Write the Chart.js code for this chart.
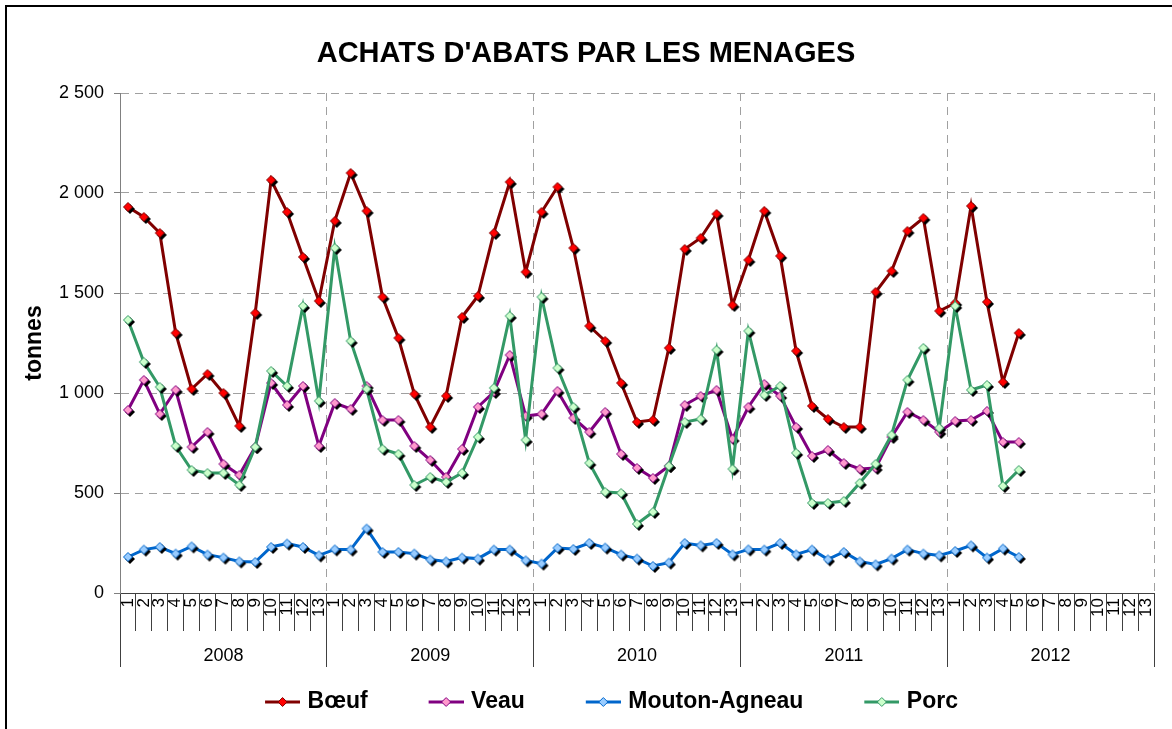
<!DOCTYPE html>
<html>
<head>
<meta charset="utf-8">
<script src="https://cdn.jsdelivr.net/npm/chart.js@4.4.0/dist/chart.umd.min.js"></script>
<style>
html,body{margin:0;padding:0;background:#fff;overflow:hidden;}
#wrap{position:relative;width:1172px;height:729px;overflow:hidden;}
#frame{position:absolute;left:5px;top:5px;width:1200px;height:800px;border-left:2px solid #000;border-top:2px solid #000;pointer-events:none;}
canvas{position:absolute;left:0;top:0;}
</style>
</head>
<body>
<div id="wrap"><canvas id="c" width="1172" height="729"></canvas><div id="frame"></div></div>
<script>
// ---- data ----
const years = ['2008', '2009', '2010', '2011', '2012'];
const periods = ['1','2','3','4','5','6','7','8','9','10','11','12','13'];

const beef = [
  1930, 1880, 1800, 1300, 1020, 1095, 1000, 835, 1400, 2065, 1905, 1680, 1460,
  1860, 2100, 1910, 1480, 1275, 995, 830, 985, 1380, 1485, 1800, 2055, 1605,
  1905, 2030, 1725, 1335, 1260, 1050, 855, 865, 1225, 1720, 1775, 1895, 1440,
  1665, 1910, 1685, 1210, 935, 870, 830, 830, 1505, 1610, 1810, 1875, 1410,
  1450, 1935, 1455, 1055, 1300
];
const veal = [
  915, 1065, 895, 1015, 730, 805, 645, 590, 730, 1050, 940, 1035, 735,
  950, 920, 1035, 865, 865, 735, 665, 580, 720, 930, 1005, 1190, 885,
  895, 1010, 875, 805, 905, 695, 625, 575, 635, 940, 985, 1015, 770,
  930, 1045, 985, 830, 685, 715, 650, 620, 625, 780, 905, 865, 805,
  860, 865, 910, 755, 755
];
const mutton = [
  180, 217, 230, 197, 233, 192, 177, 158, 155, 230, 247, 230, 188,
  218, 217, 322, 205, 205, 197, 167, 158, 177, 172, 217, 217, 163,
  147, 225, 220, 250, 227, 192, 172, 135, 152, 250, 238, 250, 193,
  218, 217, 250, 193, 217, 168, 205, 158, 143, 172, 217, 197, 188,
  210, 238, 177, 222, 180
];
const pork = [
  1365, 1155, 1030, 735, 615, 600, 600, 540, 730, 1110, 1035, 1435, 960,
  1725, 1260, 1020, 720, 695, 540, 580, 555, 600, 780, 1025, 1385, 765,
  1480, 1125, 930, 650, 505, 500, 345, 405, 635, 855, 870, 1215, 620,
  1310, 990, 1035, 700, 450, 450, 460, 550, 645, 790, 1065, 1225, 825,
  1435, 1015, 1040, 535, 615
];
const seriesNames = ['Bœuf', 'Veau', 'Mouton-Agneau', 'Porc'];
const yTicks = [0, 500, 1000, 1500, 2000, 2500];
const yTickLabels = ['0', '500', '1 000', '1 500', '2 000', '2 500'];

// ---- styles ----
const styles = [
  {line: '#800000', fill: '#FF0000', stroke: '#800000'},
  {line: '#800080', fill: '#FF99CC', stroke: '#800080'},
  {line: '#0066CC', fill: '#99CCFF', stroke: '#0066CC'},
  {line: '#339966', fill: '#CCFFCC', stroke: '#339966'}
];
const FONT = "'Liberation Sans', Arial, sans-serif";
Chart.defaults.font.family = FONT;
Chart.defaults.color = '#000';

function diamond(g, cx, cy, r) {
  g.beginPath();
  g.moveTo(cx, cy - r); g.lineTo(cx + r, cy); g.lineTo(cx, cy + r); g.lineTo(cx - r, cy);
  g.closePath();
}
function makePoint(st) {
  const c = document.createElement('canvas');
  c.width = 20; c.height = 20;
  const g = c.getContext('2d');
  diamond(g, 12, 12, 5); g.fillStyle = '#000'; g.fill();
  diamond(g, 10, 10, 4.5); g.fillStyle = st.fill; g.fill();
  g.lineWidth = 1; g.strokeStyle = st.stroke; g.stroke();
  return c;
}
function makeLegend(st) {
  const c = document.createElement('canvas');
  c.width = 90; c.height = 14;
  const g = c.getContext('2d');
  g.beginPath(); g.moveTo(55, 7); g.lineTo(90, 7);
  g.lineWidth = 3; g.strokeStyle = st.line; g.stroke();
  diamond(g, 72.5, 7, 4.5); g.fillStyle = st.fill; g.fill();
  g.lineWidth = 1; g.strokeStyle = st.stroke; g.stroke();
  return c;
}
const legendImgs = styles.map(makeLegend);

const xLabels = years.flatMap(() => periods);
const pad = (arr) => arr.concat(new Array(xLabels.length - arr.length).fill(null));
const values = [beef, veal, mutton, pork];

const datasets = values.map((v, i) => ({
  label: seriesNames[i],
  data: pad(v),
  borderColor: styles[i].line,
  backgroundColor: styles[i].fill,
  borderWidth: 3,
  pointStyle: makePoint(styles[i]),
  pointRadius: 5,
  pointHoverRadius: 5,
  tension: 0,
  fill: false,
  order: 3 - i,
  xAxisID: 'x',
  yAxisID: 'y'
}));

new Chart(document.getElementById('c'), {
  type: 'line',
  data: { labels: xLabels, datasets },
  options: {
    responsive: false,
    animation: false,
    devicePixelRatio: 1,
    layout: { padding: { top: 0, left: 0, right: 0, bottom: 5.5 } },
    plugins: {
      tooltip: { enabled: false },
      title: {
        display: true,
        text: "ACHATS D'ABATS PAR LES MENAGES",
        font: { size: 29, weight: 'bold' },
        color: '#000',
        padding: { top: 37, bottom: 21.2 }
      },
      legend: {
        position: 'bottom',
        labels: {
          usePointStyle: true,
          pointStyleWidth: 82,
          padding: 10,
          font: { size: 23, weight: 'bold' },
          color: '#000',
          generateLabels: (chart) => chart.data.datasets.map((ds, i) => ({
            text: ds.label,
            fillStyle: styles[i].fill,
            strokeStyle: styles[i].line,
            lineWidth: 0,
            hidden: false,
            pointStyle: legendImgs[i],
            rotation: 0,
            datasetIndex: i,
            fontColor: '#000'
          }))
        }
      }
    },
    scales: {
      x: {
        type: 'category',
        position: 'bottom',
        weight: 0,
        offset: true,
        grid: { display: true, offset: true, drawOnChartArea: false, drawTicks: true, tickLength: 38, color: '#404040', tickColor: '#404040', tickWidth: 1 },
        border: { display: true, color: '#404040', width: 1 },
        ticks: { autoSkip: false, minRotation: 90, maxRotation: 90, padding: -33, font: { size: 17 }, color: '#000' },
        afterFit: (s) => { s.height = 38; }
      },
      xYear: {
        type: 'category',
        labels: years,
        position: 'bottom',
        weight: 1,
        offset: true,
        grid: { display: true, offset: true, drawOnChartArea: true, drawTicks: true, tickLength: 36, color: '#A0A0A0', tickColor: '#404040', tickWidth: 1 },
        border: { display: false, dash: [8, 6] },
        ticks: { autoSkip: false, maxRotation: 0, minRotation: 0, padding: -22, font: { size: 18 }, color: '#000' },
        afterFit: (s) => { s.height = 49.5; }
      },
      y: {
        type: 'linear',
        position: 'left',
        min: 0,
        max: 2500,
        ticks: {
          stepSize: 500,
          padding: 10,
          font: { size: 18 },
          color: '#000',
          callback: (v) => yTickLabels[yTicks.indexOf(v)]
        },
        grid: { color: '#A0A0A0', lineWidth: 1, drawTicks: true, tickLength: 6, tickColor: '#808080' },
        border: { display: true, color: '#808080', width: 1, dash: [8, 6] },
        title: { display: true, text: 'tonnes', font: { size: 23, weight: 'bold' }, color: '#000', padding: { top: 21, bottom: 0 } },
        afterFit: (s) => { s.width = 120; }
      },
      yR: {
        type: 'linear',
        position: 'right',
        display: true,
        grid: { display: false },
        border: { display: false },
        ticks: { display: false },
        afterFit: (s) => { s.width = 18; }
      }
    }
  }
});
</script>
</body>
</html>
